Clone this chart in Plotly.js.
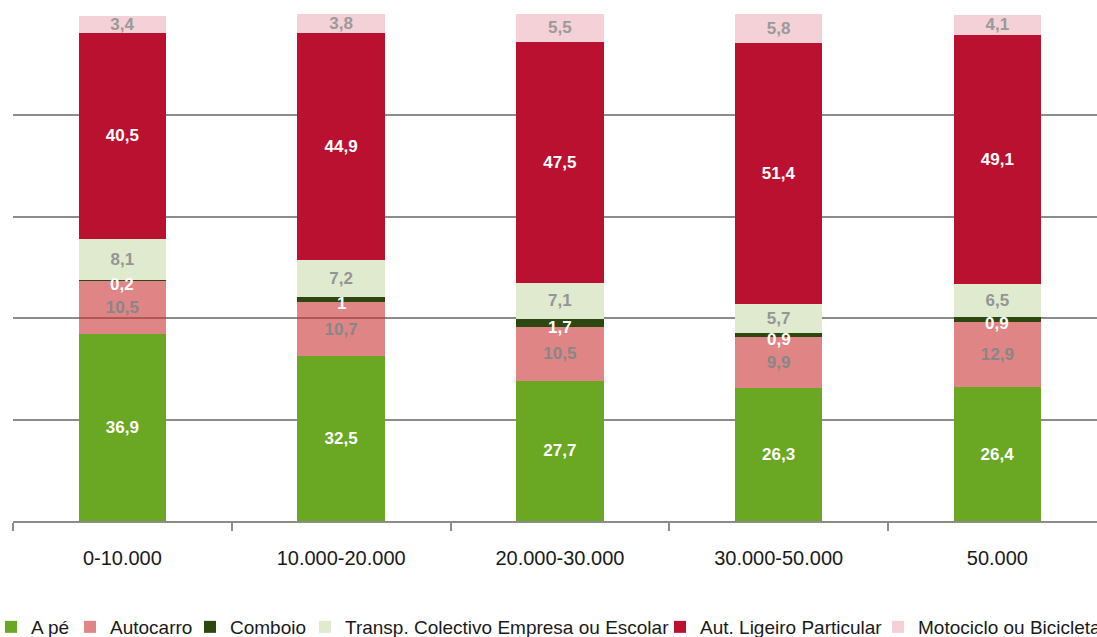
<!DOCTYPE html>
<html>
<head>
<meta charset="utf-8">
<script src="https://cdn.plot.ly/plotly-3.0.1.min.js"></script>
<style>html,body{margin:0;padding:0;background:#fff;}#chart{width:1097px;height:637px;}</style>
</head>
<body>
<div id="chart"></div>
<script>
// Categories (x axis tick labels)
const categories = ["0-10.000", "10.000-20.000", "20.000-30.000", "30.000-50.000", "50.000"];

// Series names (legend)
const seriesNames = ["A pé", "Autocarro", "Comboio", "Transp. Colectivo Empresa ou Escolar", "Aut. Ligeiro Particular", "Motociclo ou Bicicleta"];

// Series values (%)
const aPe        = [36.9, 32.5, 27.7, 26.3, 26.4];
const autocarro  = [10.5, 10.7, 10.5, 9.9, 12.9];
const comboio    = [0.2, 1.0, 1.7, 0.9, 0.9];
const transpCol  = [8.1, 7.2, 7.1, 5.7, 6.5];
const autLigeiro = [40.5, 44.9, 47.5, 51.4, 49.1];
const motociclo  = [3.4, 3.8, 5.5, 5.8, 4.1];

const seriesValues = [aPe, autocarro, comboio, transpCol, autLigeiro, motociclo];
const seriesColors = ["#6aa823", "rgba(203,52,53,0.6)", "#2c4810", "#dfeacf", "#bb1130", "#f4d0d7"];
const labelColors  = ["#ffffff", "#878787", "#ffffff", "#959595", "#ffffff", "#9a9a9a"];

// Legend text start positions (pixels) in the reference
const legendTextX = [31, 110, 230, 345, 700, 918];

const W = 1097, H = 637;
const mL = 13, mR = 0, mT = 14, mB = 116;
const plotW = W - mL - mR, plotH = H - mT - mB;
const catW = 218.75;

const labelFamily = "'Liberation Sans Narrow', 'Arial Narrow', 'Liberation Sans', Arial, sans-serif";
const fmt = v => (Math.round(v * 10) / 10).toString().replace('.', ',');

const traces = seriesNames.map((name, i) => ({
  type: 'bar',
  name: name,
  x: categories,
  y: seriesValues[i],
  // the thin "Comboio" segment gets its labels as annotations (drawn on top)
  text: i === 2 ? seriesValues[i].map(() => '') : seriesValues[i].map(fmt),
  textposition: 'inside',
  insidetextanchor: 'middle',
  textangle: 0,
  constraintext: 'none',
  insidetextfont: {family: labelFamily, size: 17, color: labelColors[i], weight: 'bold'},
  marker: {color: seriesColors[i], line: {width: 0}},
  width: 0.4,
  hoverinfo: 'skip',
  legend: i === 0 ? 'legend' : 'legend' + (i + 1)
}));

// category index used as x so numeric-looking names ("50.000") are not read as numbers
const annotations = categories.map((c, j) => ({
  x: j,
  y: aPe[j] + autocarro[j] + comboio[j] / 2,
  xref: 'x', yref: 'y',
  text: fmt(comboio[j]),
  showarrow: false,
  yshift: -4,
  font: {family: labelFamily, size: 17, color: '#ffffff', weight: 'bold'}
}));

const layout = {
  width: W, height: H,
  margin: {l: mL, r: mR, t: mT, b: mB, autoexpand: false},
  paper_bgcolor: '#ffffff',
  plot_bgcolor: '#ffffff',
  barmode: 'stack',
  font: {family: "'Liberation Sans', Arial, sans-serif", color: '#1a1a1a'},
  xaxis: {
    type: 'category',
    range: [-0.5, -0.5 + plotW / catW],
    showgrid: false,
    showline: true,
    linecolor: '#8c8c8c',
    linewidth: 2,
    ticks: 'outside',
    tickson: 'boundaries',
    ticklen: 8,
    tickwidth: 2,
    tickcolor: '#8c8c8c',
    ticklabelstandoff: 18,
    tickfont: {size: 20, color: '#1a1a1a', family: "'Liberation Sans', Arial, sans-serif"},
    zeroline: false,
    fixedrange: true
  },
  yaxis: {
    range: [0, 100],
    dtick: 20,
    tick0: 0,
    showticklabels: false,
    showgrid: true,
    gridcolor: '#8c8c8c',
    gridwidth: 2,
    zeroline: false,
    showline: false,
    ticks: '',
    fixedrange: true
  },
  annotations: annotations,
  showlegend: true
};

// One legend per series, placed at the reference positions
seriesNames.forEach((name, i) => {
  const key = i === 0 ? 'legend' : 'legend' + (i + 1);
  layout[key] = {
    orientation: 'h',
    x: (legendTextX[i] - 40 - mL) / plotW,
    xanchor: 'left',
    y: -(627 - (H - mB)) / plotH,
    yanchor: 'middle',
    bgcolor: 'rgba(0,0,0,0)',
    borderwidth: 0,
    itemwidth: 30,
    font: {size: 19, color: '#1a1a1a', family: "'Liberation Sans', Arial, sans-serif"},
    traceorder: 'normal'
  };
});

Plotly.newPlot('chart', traces, layout, {displayModeBar: false, staticPlot: true});
</script>
</body>
</html>
